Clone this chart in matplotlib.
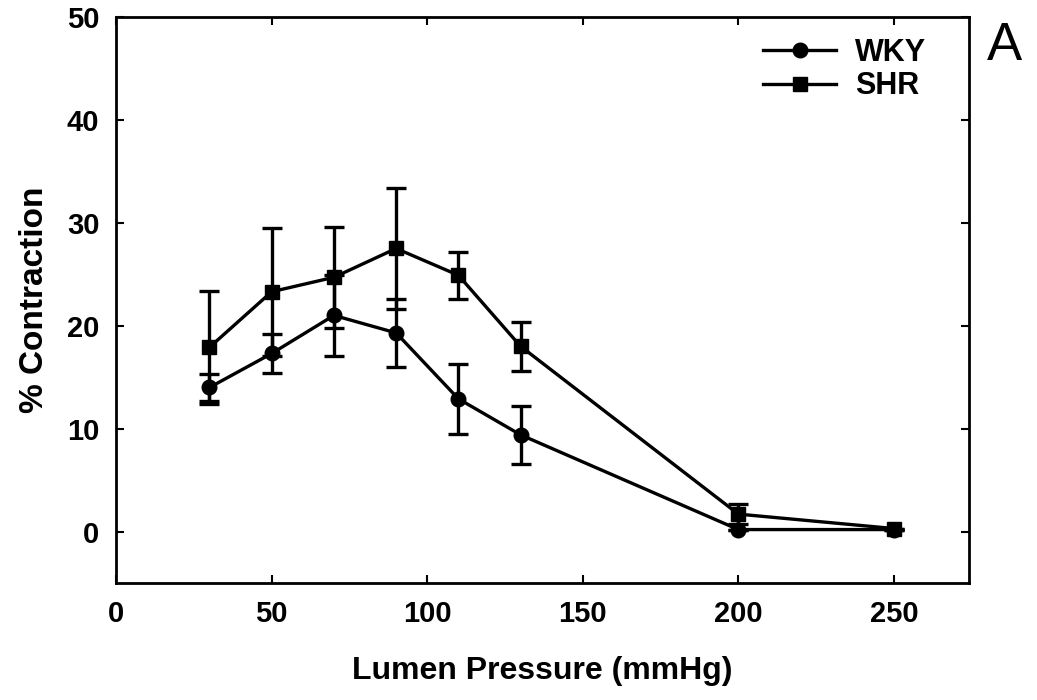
import matplotlib.pyplot as plt

plt.rcParams['font.family'] = ['Liberation Sans', 'DejaVu Sans']
plt.rcParams['font.weight'] = 'bold'

pressure = [30, 50, 70, 90, 110, 130, 200, 250]
wky = [14.0, 17.3, 21.0, 19.3, 12.9, 9.4, 0.2, 0.2]
wky_err = [1.3, 1.9, 3.9, 3.3, 3.4, 2.8, 0.0, 0.0]
shr = [17.9, 23.3, 24.7, 27.5, 24.9, 18.0, 1.7, 0.3]
shr_err = [5.5, 6.2, 4.9, 5.9, 2.3, 2.4, 1.0, 0.0]

fig = plt.figure(figsize=(10.37, 7), dpi=100)
ax = fig.add_axes([0.112, 0.167, 0.822, 0.809])

# error bars (no legend entry)
ax.errorbar(pressure, wky, yerr=wky_err, fmt='none', ecolor='black',
            elinewidth=2.4, capsize=7, capthick=2.4)
ax.errorbar(pressure, shr, yerr=shr_err, fmt='none', ecolor='black',
            elinewidth=2.4, capsize=7, capthick=2.4)
ax.plot(pressure, wky, color='black', marker='o', markersize=10.5,
        linewidth=2.4, label='WKY')
ax.plot(pressure, shr, color='black', marker='s', markersize=9.5,
        linewidth=2.4, label='SHR')

ax.set_xlim(0, 274)
ax.set_ylim(-5, 50)
ax.set_xticks([0, 50, 100, 150, 200, 250])
ax.set_yticks([0, 10, 20, 30, 40, 50])
ax.tick_params(direction='in', length=6, width=1.5, labelsize=21, pad=12,
               top=True, right=True)
for s in ax.spines.values():
    s.set_linewidth(2)

ax.set_xlabel('Lumen Pressure (mmHg)', fontsize=23, fontweight='bold', labelpad=20)
ax.set_ylabel('% Contraction', fontsize=24, fontweight='bold', labelpad=12)

leg = ax.legend(loc='upper right', frameon=False, fontsize=22, handlelength=2.4,
                handletextpad=0.6, labelspacing=0.1, borderaxespad=0.3,
                bbox_to_anchor=(0.975, 1.0))

fig.text(0.969, 0.915, 'A', fontsize=38, fontweight='light', ha='center')

plt.savefig('out.png', dpi=100)
